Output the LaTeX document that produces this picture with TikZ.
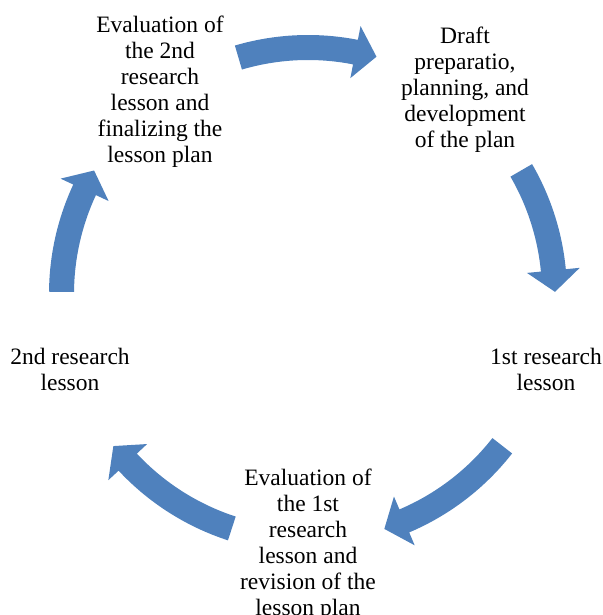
\documentclass[tikz,border=0pt]{standalone}
\usepackage{fontspec}
\setmainfont{Liberation Serif}
\definecolor{arrowblue}{RGB}{79,129,189}
\begin{document}
\begin{tikzpicture}[x=1pt,y=1pt,
  lbl/.style={align=center, inner sep=0pt, font=\fontsize{23.5}{26}\selectfont},
  cyc/.style={fill=arrowblue, draw=none}]
\useasboundingbox (0,0) rectangle (602,-615);
\coordinate (c) at (308,-294);
\node[lbl] (n1) at (160,-92) {Evaluation of\\the 2nd\\research\\lesson and\\finalizing the\\lesson plan};
\node[lbl] (n2) at (465,-90) {Draft\\preparatio,\\planning, and\\development\\of the plan};
\node[lbl] (n3) at (546,-369) {1st research\\lesson};
\node[lbl] (n4) at (308,-545) {Evaluation of\\the 1st\\research\\lesson and\\revision of the\\lesson plan};
\node[lbl] (n5) at (70,-369) {2nd research\\lesson};
\foreach \ta/\tp in {106.4/73.9, 30.1/0.5, -38/-72, -108/-142, 179.5/150} {
  \pgfmathsetmacro{\hb}{\tp+5}
  \fill[cyc, shift={(c)}] (\ta:259pt) arc[start angle=\ta, end angle=\hb, radius=259pt]
    -- (\hb:273pt) -- (\tp:247pt) -- (\hb:220pt) -- (\hb:234pt)
    arc[start angle=\hb, end angle=\ta, radius=234pt] -- cycle;
}
\end{tikzpicture}
\end{document}
